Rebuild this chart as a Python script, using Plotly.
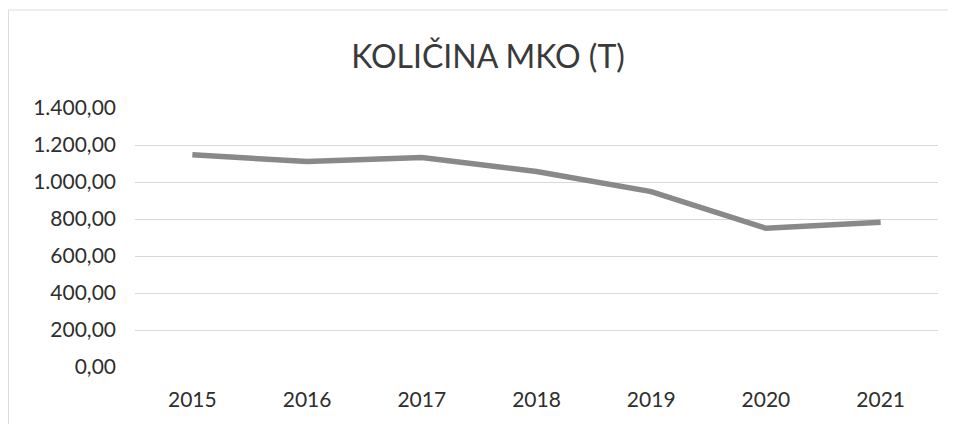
import plotly.graph_objects as go

years = ["2015", "2016", "2017", "2018", "2019", "2020", "2021"]
kolicina = [1147, 1111, 1133, 1057, 948, 750, 783]
y_ticks = [0, 200, 400, 600, 800, 1000, 1200, 1400]
y_tick_labels = ["0,00", "200,00", "400,00", "600,00", "800,00", "1.000,00", "1.200,00", "1.400,00"]

# page body has an 8px default margin, so the figure starts at (8, 8)
W, H = 948, 416
ml, mr, mt, mb = 127, 18, 100, 57

fig = go.Figure()
fig.add_trace(go.Scatter(
    x=years, y=kolicina, mode="lines",
    line=dict(color="#898989", width=5.5),
    hoverinfo="x+y", showlegend=False,
))

pw = W - ml - mr
ph = H - mt - mb
# chart border (top and left edges of the Excel chart area)
x0 = (0.5 - ml) / pw
y_top = (H - 2 - mb) / ph
fig.add_shape(type="line", xref="paper", yref="paper", x0=x0, x1=(W - ml) / pw,
              y0=y_top, y1=y_top, line=dict(color="#dcdcdc", width=1))
fig.add_shape(type="line", xref="paper", yref="paper", x0=x0, x1=x0,
              y0=y_top, y1=(-mb) / ph, line=dict(color="#dcdcdc", width=1))

fig.update_layout(
    width=W, height=H,
    margin=dict(l=ml, r=mr, t=mt, b=mb, autoexpand=False),
    paper_bgcolor="white", plot_bgcolor="white",
    font=dict(family="Lato, Open Sans, sans-serif", color="#3a3a3a"),
    title=dict(text="KOLIČINA MKO (T)", x=480 / W, xanchor="center",
               y=1 - 49 / H, yanchor="middle",
               font=dict(size=32, color="#3a3a3a")),
    xaxis=dict(type="category", range=[-0.5, 6.5], showgrid=False, zeroline=False,
               showline=False, ticks="", tickfont=dict(size=21, color="#2e2e2e"),
               ticklabelstandoff=18, automargin=False),
    yaxis=dict(range=[0, 1400], tickvals=y_ticks, ticktext=y_tick_labels,
               showgrid=True, gridcolor="#d9d9d9", gridwidth=1, zeroline=False,
               showline=False, ticks="", tickfont=dict(size=21, color="#2e2e2e"),
               ticklabelstandoff=18, automargin=False),
)

fig.write_html("out.html")
